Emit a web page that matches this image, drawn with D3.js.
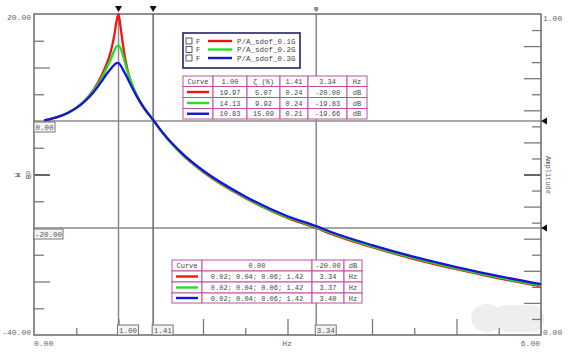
<!DOCTYPE html>
<html>
<head>
<meta charset="utf-8">
<script src="https://cdn.jsdelivr.net/npm/d3@7"></script>
<style>
  body { margin: 0; background: #fff; }
  svg { display: block; font-family: "Liberation Mono", "DejaVu Sans Mono", monospace; }
</style>
</head>
<body>
<svg width="568" height="354"></svg>
<script>
// frequency (Hz) and response (dB)
const freq   = [0.12, 0.2, 0.3, 0.4, 0.5, 0.6, 0.7, 0.8, 0.85, 0.9, 0.95, 0.975, 1.0, 1.025, 1.05, 1.1, 1.15, 1.2, 1.3, 1.41, 1.5, 1.75, 2.0, 2.5, 3.0, 3.34, 3.5, 4.0, 4.5, 5.0, 5.5, 6.0];
const red01  = [0.1, 0.4, 0.85, 1.55, 2.5, 3.8, 5.7, 8.5, 10.3, 12.5, 16.0, 18.5, 19.97, 17.5, 14.5, 10.0, 7.2, 5.2, 2.4, 0.24, -1.8, -6.2, -9.5, -14.4, -18.1, -20.0, -21.0, -23.6, -25.8, -27.7, -29.4, -30.9];
const green02 = [0.1, 0.4, 0.85, 1.55, 2.45, 3.75, 5.55, 8.0, 9.6, 11.2, 13.2, 13.9, 14.13, 13.6, 12.4, 9.6, 7.3, 5.4, 2.5, 0.24, -1.8, -6.15, -9.4, -14.3, -18.0, -19.83, -20.85, -23.45, -25.65, -27.55, -29.25, -30.75];
const blue03 = [0.1, 0.4, 0.85, 1.5, 2.4, 3.65, 5.3, 7.4, 8.6, 9.6, 10.5, 10.8, 10.83, 10.4, 9.7, 8.2, 6.6, 5.1, 2.5, 0.21, -1.7, -6.0, -9.25, -14.1, -17.8, -19.66, -20.65, -23.2, -25.4, -27.3, -29.0, -30.5];

const curveNames  = ["P/A_sdof_0.1G", "P/A_sdof_0.2G", "P/A_sdof_0.3G"];
const curveColors = ["#f01414", "#22e022", "#1414dc"];
const series = [red01, green02, blue03];

const cursorFreqs = [1.00, 1.41, 3.34];
const cursorLevels = [0, -20];

const topHeader = ["Curve", "1.00", "ζ (%)", "1.41", "3.34", "Hz"];
const topRows = [
  ["19.97", "5.07", "0.24", "-20.00", "dB"],
  ["14.13", "9.92", "0.24", "-19.83", "dB"],
  ["10.83", "15.09", "0.21", "-19.66", "dB"]
];
const lowHeader = ["Curve", "0.00", "-20.00", "dB"];
const lowRows = [
  ["0.02; 0.04; 0.06; 1.42", "3.34", "Hz"],
  ["0.02; 0.04; 0.06; 1.42", "3.37", "Hz"],
  ["0.02; 0.04; 0.06; 1.42", "3.40", "Hz"]
];

const L = 34, R = 541, T = 14, B = 335;
const svg = d3.select("svg");

const x = d3.scaleLinear().domain([0, 6]).range([L, R]);
const y = d3.scaleLinear().domain([-40, 20]).range([B, T]);
const amp = d3.scaleLinear().domain([0, 1]).range([B, T]);

// faint watermark blob bottom right
const wm = svg.append("g").attr("fill", "#eeeeee");
wm.append("ellipse").attr("cx", 487).attr("cy", 318).attr("rx", 16).attr("ry", 14);
wm.append("rect").attr("x", 494).attr("y", 305).attr("width", 50).attr("height", 27).attr("rx", 12);

function tickAxis(axis, tf, size, vals, dark) {
  const g = svg.append("g").attr("transform", tf)
    .call(axis.tickValues(vals).tickSize(-size).tickFormat(""));
  g.select(".domain").remove();
  g.selectAll(".tick line")
    .attr("stroke", d => dark && dark.includes(d) ? "#111" : "#7a7a7a")
    .attr("stroke-width", 1.3);
  return g;
}

// bottom ticks
tickAxis(d3.axisBottom(x), `translate(0,${B})`, 16, [1, 2, 3, 4, 5]);
tickAxis(d3.axisBottom(x), `translate(0,${B})`, 7, [0.5, 1.5, 2.5, 3.5, 4.5, 5.5]);
// left ticks
tickAxis(d3.axisLeft(y), `translate(${L},0)`, 16, [-30, -10, 10], [-10]);
tickAxis(d3.axisLeft(y), `translate(${L},0)`, 10, [-35, -25, -15, -5, 5, 15]);
// right ticks (amplitude)
const ampMajor = d3.range(1, 10).map(k => k / 10);
const ampMinor = d3.range(0, 10).map(k => k / 10 + 0.05);
tickAxis(d3.axisRight(amp), `translate(${R},0)`, 17, ampMajor, [0.5]);
tickAxis(d3.axisRight(amp), `translate(${R},0)`, 9, ampMinor);

// cursor lines
svg.append("g").selectAll("line").data(cursorLevels).join("line")
  .attr("x1", L).attr("x2", R).attr("y1", d => y(d)).attr("y2", d => y(d))
  .attr("stroke", "#8a8a8a").attr("stroke-width", 1.5);
svg.append("g").selectAll("line").data(cursorFreqs).join("line")
  .attr("x1", d => x(d)).attr("x2", d => x(d)).attr("y1", T).attr("y2", B)
  .attr("stroke", (d, i) => i === 1 ? "#666" : "#8a8a8a").attr("stroke-width", 1.5);

// frame
svg.append("rect").attr("x", L).attr("y", T).attr("width", R - L).attr("height", B - T)
  .attr("fill", "none").attr("stroke", "#6a6a6a").attr("stroke-width", 1.5);

// curves
const line = d3.line().x(d => x(d[0])).y(d => y(d[1])).curve(d3.curveMonotoneX);
svg.append("g").selectAll("path").data(series).join("path")
  .attr("d", s => line(freq.map((f, i) => [f, s[i]])))
  .attr("fill", "none").attr("stroke", (d, i) => curveColors[i]).attr("stroke-width", 2.3);

// cursor markers on top
svg.append("g").selectAll("path").data(cursorFreqs.slice(0, 2)).join("path")
  .attr("d", d => `M${x(d) - 3.5},6 L${x(d) + 3.5},6 L${x(d)},12 Z`).attr("fill", "#111");
svg.append("path")
  .attr("d", `M${x(3.34) - 2},7 L${x(3.34) + 2},7 L${x(3.34) + 2},10 L${x(3.34)},12 L${x(3.34) - 2},10 Z`)
  .attr("fill", "#8a8a8a");
// arrows on right
svg.append("g").selectAll("path").data(cursorLevels).join("path")
  .attr("d", d => `M${R},${y(d)} L${R + 6},${y(d) - 3.5} L${R + 6},${y(d) + 3.5} Z`).attr("fill", "#111");

// axis texts
const txt = (s, px, py, anchor, size, color) => svg.append("text").text(s)
  .attr("x", px).attr("y", py).attr("text-anchor", anchor || "start")
  .attr("font-size", size || 8).attr("fill", color || "#666");
txt("20.00", 31, 20, "end");
txt("-40.00", 31, 335, "end");
txt("0.00", L, 346);
txt("Hz", 287, 346, "middle");
txt("6.00", R - 1, 346, "end");
txt("1.00", R + 2, 21);
txt("0.00", R + 2, 335);
txt("Amplitude", 0, 0, "middle", 7, "#555").attr("transform", `translate(546,175) rotate(90)`);
txt("M", 0, 0, "middle", 7, "#333").attr("transform", `translate(15,175) rotate(90)`);
txt("dB", 0, 0, "middle", 7, "#555").attr("transform", `translate(26,175) rotate(90)`);

// value boxes
function valueBox(s, bx, by, w) {
  svg.append("rect").attr("x", bx).attr("y", by).attr("width", w).attr("height", 10)
    .attr("fill", "#f3f3f3").attr("stroke", "#777").attr("stroke-width", 1);
  txt(s, bx + w / 2, by + 8, "middle", 7.5, "#555");
}
valueBox("0.00", L, y(0) + 1, 21);
valueBox("-20.00", L, y(-20) + 1, 29);
cursorFreqs.forEach(f => valueBox(f.toFixed(2), x(f) - 1, 325, 21));

// legend
const lg = svg.append("g");
lg.append("rect").attr("x", 183).attr("y", 33).attr("width", 117).attr("height", 35)
  .attr("fill", "#fff").attr("stroke", "#22226a").attr("stroke-width", 1.6);
curveNames.forEach((n, i) => {
  const cy = 41 + i * 8.5;
  lg.append("rect").attr("x", 186).attr("y", cy - 3).attr("width", 6).attr("height", 6)
    .attr("fill", "#fff").attr("stroke", "#333").attr("stroke-width", 0.8);
  lg.append("text").text("F").attr("x", 196).attr("y", cy + 2.5).attr("font-size", 7).attr("fill", "#444");
  lg.append("line").attr("x1", 208).attr("x2", 232).attr("y1", cy).attr("y2", cy)
    .attr("stroke", curveColors[i]).attr("stroke-width", 2.4);
  lg.append("text").text(n).attr("x", 237).attr("y", cy + 2.5).attr("font-size", 7.5).attr("fill", "#444");
});

// tables
function table(cols, rows, header, body) {
  const g = svg.append("g");
  const all = [header].concat(body.map(r => [null].concat(r)));
  all.forEach((r, ri) => {
    r.forEach((c, ci) => {
      const x0 = cols[ci], x1 = cols[ci + 1], y0 = rows[ri], y1 = rows[ri + 1];
      g.append("rect").attr("x", x0).attr("y", y0).attr("width", x1 - x0).attr("height", y1 - y0)
        .attr("fill", "#fff").attr("stroke", "#c0509c").attr("stroke-width", 1);
      if (c === null) {
        g.append("line").attr("x1", x0 + 4).attr("x2", x1 - 4)
          .attr("y1", (y0 + y1) / 2).attr("y2", (y0 + y1) / 2)
          .attr("stroke", curveColors[ri - 1]).attr("stroke-width", 2.4);
      } else {
        g.append("text").text(c).attr("x", (x0 + x1) / 2).attr("y", (y0 + y1) / 2 + 2.5)
          .attr("text-anchor", "middle").attr("font-size", 7).attr("fill", "#444");
      }
    });
  });
}
table([183, 213, 247, 280, 308, 347, 367], [76, 86.5, 97.5, 108.5, 119], topHeader, topRows);
table([172, 202, 312, 344, 362], [260, 271, 282, 293, 303], lowHeader, lowRows);
</script>
</body>
</html>
